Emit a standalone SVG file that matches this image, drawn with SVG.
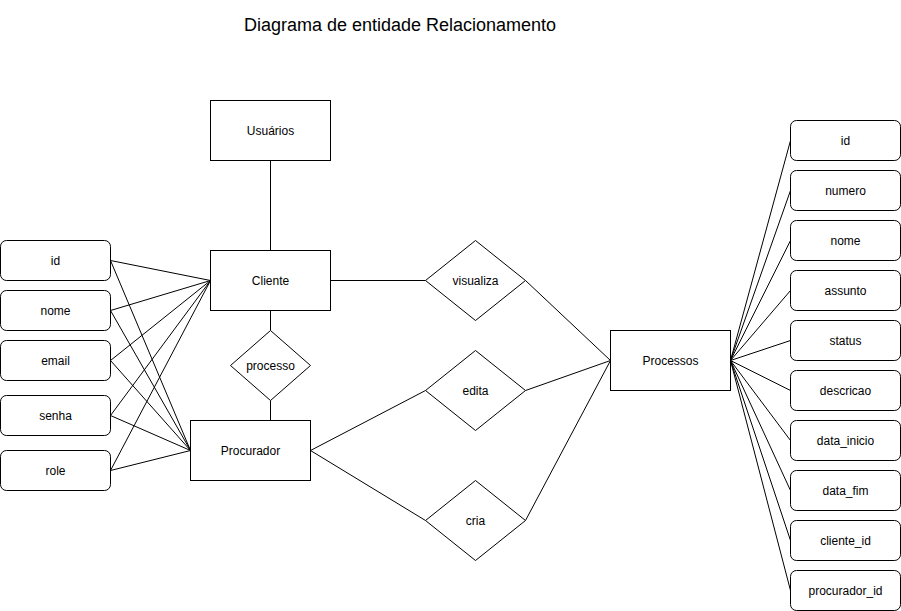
<svg xmlns="http://www.w3.org/2000/svg" width="901" height="611" viewBox="0 0 901 611">
<style>
.e{fill:#fff;stroke:#000;stroke-width:1}
.a{fill:#fff;stroke:#000;stroke-width:1}
.t{font-family:"Liberation Sans",Arial,sans-serif;font-size:12px;fill:#000;text-anchor:middle;dominant-baseline:central}
.c line,.c path{stroke:#000;stroke-width:1;fill:none}
</style>
<rect width="901" height="611" fill="#fff"/>
<text x="400" y="25" font-family="Liberation Sans,Arial,sans-serif" font-size="18" text-anchor="middle" dominant-baseline="central" fill="#000">Diagrama de entidade Relacionamento</text>
<g transform="translate(0.5,0.5)">
<g class="c" id="connectors">
<line x1="270" y1="160" x2="270" y2="250"/>
<line x1="270" y1="310" x2="270" y2="330"/>
<line x1="270" y1="400" x2="270" y2="420"/>
<line x1="110" y1="260" x2="210" y2="280"/>
<line x1="110" y1="310" x2="210" y2="280"/>
<line x1="110" y1="360" x2="210" y2="280"/>
<line x1="110" y1="415" x2="210" y2="280"/>
<line x1="110" y1="470" x2="210" y2="280"/>
<line x1="110" y1="260" x2="190" y2="450"/>
<line x1="110" y1="310" x2="190" y2="450"/>
<line x1="110" y1="360" x2="190" y2="450"/>
<line x1="110" y1="415" x2="190" y2="450"/>
<line x1="110" y1="470" x2="190" y2="450"/>
<line x1="330" y1="280" x2="425" y2="280"/>
<line x1="525" y1="280" x2="610" y2="360"/>
<line x1="525" y1="390" x2="610" y2="360"/>
<line x1="525" y1="520" x2="610" y2="360"/>
<line x1="310" y1="450" x2="425" y2="390"/>
<line x1="310" y1="450" x2="425" y2="520"/>
<line x1="730" y1="360" x2="790" y2="140"/>
<line x1="730" y1="360" x2="790" y2="190"/>
<line x1="730" y1="360" x2="790" y2="240"/>
<line x1="730" y1="360" x2="790" y2="290"/>
<line x1="730" y1="360" x2="790" y2="340"/>
<line x1="730" y1="360" x2="790" y2="390"/>
<line x1="730" y1="360" x2="790" y2="440"/>
<line x1="730" y1="360" x2="790" y2="490"/>
<line x1="730" y1="360" x2="790" y2="540"/>
<line x1="730" y1="360" x2="790" y2="590"/>
</g>
<g id="usuarios"><rect class="e" x="210" y="100" width="120" height="60"/><text class="t" x="270" y="130">Usuários</text></g>
<g id="cliente"><rect class="e" x="210" y="250" width="120" height="60"/><text class="t" x="270" y="280">Cliente</text></g>
<g id="processo"><polygon class="e" points="270,330 310,365 270,400 230,365"/><text class="t" x="270" y="365">processo</text></g>
<g id="procurador"><rect class="e" x="190" y="420" width="120" height="60"/><text class="t" x="250" y="450">Procurador</text></g>
<g id="visualiza"><polygon class="e" points="475,240 525,280 475,320 425,280"/><text class="t" x="475" y="280">visualiza</text></g>
<g id="edita"><polygon class="e" points="475,350 525,390 475,430 425,390"/><text class="t" x="475" y="390">edita</text></g>
<g id="cria"><polygon class="e" points="475,480 525,520 475,560 425,520"/><text class="t" x="475" y="520">cria</text></g>
<g id="processos"><rect class="e" x="610" y="330" width="120" height="60"/><text class="t" x="670" y="360">Processos</text></g>
<g id="c-id"><rect class="a" x="0" y="240" width="110" height="40" rx="6"/><text class="t" x="55" y="260">id</text></g>
<g id="c-nome"><rect class="a" x="0" y="290" width="110" height="40" rx="6"/><text class="t" x="55" y="310">nome</text></g>
<g id="c-email"><rect class="a" x="0" y="340" width="110" height="40" rx="6"/><text class="t" x="55" y="360">email</text></g>
<g id="c-senha"><rect class="a" x="0" y="395" width="110" height="40" rx="6"/><text class="t" x="55" y="415">senha</text></g>
<g id="c-role"><rect class="a" x="0" y="450" width="110" height="40" rx="6"/><text class="t" x="55" y="470">role</text></g>
<g id="p-id"><rect class="a" x="790" y="120" width="110" height="40" rx="6"/><text class="t" x="845" y="140">id</text></g>
<g id="p-numero"><rect class="a" x="790" y="170" width="110" height="40" rx="6"/><text class="t" x="845" y="190">numero</text></g>
<g id="p-nome"><rect class="a" x="790" y="220" width="110" height="40" rx="6"/><text class="t" x="845" y="240">nome</text></g>
<g id="p-assunto"><rect class="a" x="790" y="270" width="110" height="40" rx="6"/><text class="t" x="845" y="290">assunto</text></g>
<g id="p-status"><rect class="a" x="790" y="320" width="110" height="40" rx="6"/><text class="t" x="845" y="340">status</text></g>
<g id="p-descricao"><rect class="a" x="790" y="370" width="110" height="40" rx="6"/><text class="t" x="845" y="390">descricao</text></g>
<g id="p-data_inicio"><rect class="a" x="790" y="420" width="110" height="40" rx="6"/><text class="t" x="845" y="440">data_inicio</text></g>
<g id="p-data_fim"><rect class="a" x="790" y="470" width="110" height="40" rx="6"/><text class="t" x="845" y="490">data_fim</text></g>
<g id="p-cliente_id"><rect class="a" x="790" y="520" width="110" height="40" rx="6"/><text class="t" x="845" y="540">cliente_id</text></g>
<g id="p-procurador_id"><rect class="a" x="790" y="570" width="110" height="40" rx="6"/><text class="t" x="845" y="590">procurador_id</text></g>
</g>
</svg>
